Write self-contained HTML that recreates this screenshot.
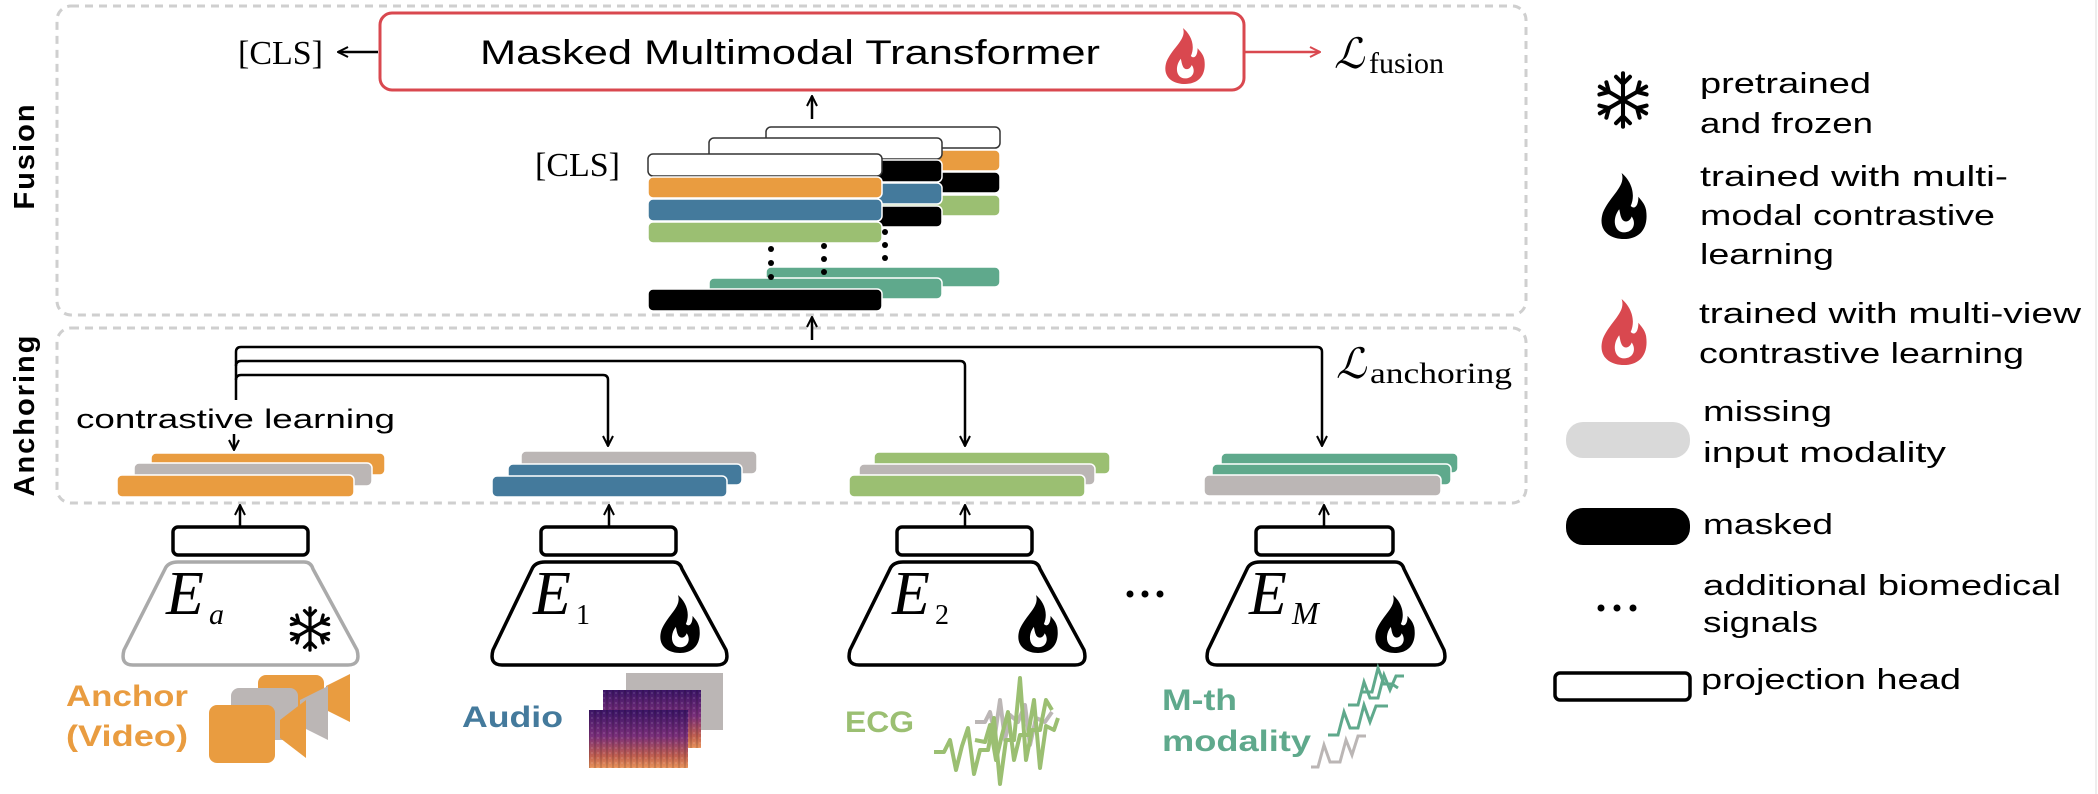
<!DOCTYPE html>
<html><head><meta charset="utf-8"><style>
html,body{margin:0;padding:0;background:#fff;}
svg{display:block;}
text{font-family:"Liberation Sans",sans-serif;}
.ser{font-family:"Liberation Serif","DejaVu Serif",serif;}
</style></head><body>
<svg width="2098" height="794" viewBox="0 0 2098 794" xmlns="http://www.w3.org/2000/svg">
<defs>
<symbol id="flame" viewBox="0 0 100 100" preserveAspectRatio="none">
<path d="M45 0 C55 20 20 35 6 60 C-6 88 22 100 50 100 C80 100 102 86 96 56 C93 46 86 42 80 36 C80 50 72 56 64 50 C76 30 62 10 45 0 Z"/>
<path fill="#fff" d="M40 55 C24 70 30 90 50 90 C70 90 76 76 66 66 C62 74 52 76 46 70 C42 65 42 60 40 55 Z"/>
</symbol>
<symbol id="snow" viewBox="-50 -50 100 100">
<g stroke="#000" stroke-width="7" fill="none" stroke-linecap="round">
<g id="arm"><line x1="0" y1="0" x2="0" y2="-46"/><polyline points="-12,-40 0,-28 12,-40"/></g>
<use href="#arm" transform="rotate(60)"/><use href="#arm" transform="rotate(120)"/>
<use href="#arm" transform="rotate(180)"/><use href="#arm" transform="rotate(240)"/><use href="#arm" transform="rotate(300)"/>
</g>
</symbol>
<marker id="ah" viewBox="0 0 12 12" refX="11" refY="6" markerWidth="12" markerHeight="12" markerUnits="userSpaceOnUse" orient="auto">
<polyline points="1,1 11,6 1,11" fill="none" stroke="#000" stroke-width="2"/>
</marker>
<marker id="ahr" viewBox="0 0 12 12" refX="11" refY="6" markerWidth="12" markerHeight="12" markerUnits="userSpaceOnUse" orient="auto">
<polyline points="1,1 11,6 1,11" fill="none" stroke="#d9484f" stroke-width="2"/>
</marker>
<linearGradient id="spec" x1="0" y1="0" x2="0" y2="1">
<stop offset="0" stop-color="#3b1466"/><stop offset="0.45" stop-color="#7a2f7a"/><stop offset="0.8" stop-color="#c2604f"/><stop offset="1" stop-color="#e8935a"/>
</linearGradient>
<pattern id="specn" width="6" height="5" patternUnits="userSpaceOnUse">
<rect width="6" height="5" fill="none"/><rect x="0" y="0" width="2" height="5" fill="#000" opacity="0.12"/><rect x="3" y="2" width="2" height="2" fill="#fff" opacity="0.1"/>
</pattern>
</defs>

<line x1="2096" y1="0" x2="2096" y2="794" stroke="#eee" stroke-width="2"/>

<rect x="57" y="6" width="1469" height="309" rx="14" fill="none" stroke="#cfcfcf" stroke-width="3" stroke-dasharray="8,6"/>
<rect x="57" y="328" width="1469" height="175" rx="14" fill="none" stroke="#cfcfcf" stroke-width="3" stroke-dasharray="8,6"/>

<text transform="translate(34,156) rotate(-90)" text-anchor="middle" font-weight="bold" font-size="29" letter-spacing="2">Fusion</text>
<text transform="translate(34,415) rotate(-90)" text-anchor="middle" font-weight="bold" font-size="29" letter-spacing="2">Anchoring</text>

<rect x="380" y="13" width="864" height="77" rx="12" fill="#fff" stroke="#d9484f" stroke-width="3"/>
<text x="790" y="64" text-anchor="middle" font-size="34" textLength="620" lengthAdjust="spacingAndGlyphs">Masked Multimodal Transformer</text>
<use href="#flame" x="1164" y="28" width="42" height="56" fill="#d9484f"/>
<line x1="378" y1="52" x2="338" y2="52" stroke="#000" stroke-width="2.5" marker-end="url(#ah)"/>
<text class="ser" x="238" y="64" font-size="34">[CLS]</text>
<line x1="1245" y1="52" x2="1320" y2="52" stroke="#d9484f" stroke-width="2.5" marker-end="url(#ahr)"/>
<text class="ser" x="1334" y="68" font-size="42" font-style="italic">ℒ</text>
<text class="ser" x="1369" y="73" font-size="30">fusion</text>

<line x1="812" y1="119" x2="812" y2="96" stroke="#000" stroke-width="2.5" marker-end="url(#ah)"/>

<g stroke="#fff" stroke-width="1.5">
<rect x="766" y="127" width="234" height="21" rx="5" fill="#fff" stroke="#333"/>
<rect x="766" y="150" width="234" height="21" rx="5" fill="#e99c40"/>
<rect x="766" y="172" width="234" height="21" rx="5" fill="#000"/>
<rect x="766" y="195" width="234" height="21" rx="5" fill="#9bbf72"/>
<rect x="709" y="138" width="233" height="21" rx="5" fill="#fff" stroke="#333"/>
<rect x="709" y="160" width="233" height="22" rx="5" fill="#000"/>
<rect x="709" y="183" width="233" height="21" rx="5" fill="#447a9c"/>
<rect x="709" y="206" width="233" height="21" rx="5" fill="#000"/>
<rect x="648" y="154" width="234" height="22" rx="5" fill="#fff" stroke="#333"/>
<rect x="648" y="177" width="234" height="21" rx="5" fill="#e99c40"/>
<rect x="648" y="199" width="234" height="22" rx="5" fill="#447a9c"/>
<rect x="648" y="222" width="234" height="21" rx="5" fill="#9bbf72"/>
<rect x="766" y="267" width="234" height="20" rx="5" fill="#5fa98c"/>
<rect x="709" y="278" width="233" height="21" rx="5" fill="#5fa98c"/>
<rect x="648" y="289" width="234" height="22" rx="5" fill="#000"/>
</g>
<g fill="#000">
<circle cx="771" cy="249" r="3"/><circle cx="771" cy="263" r="3"/><circle cx="771" cy="277" r="3"/>
<circle cx="824" cy="246" r="3"/><circle cx="824" cy="259" r="3"/><circle cx="824" cy="272" r="3"/>
<circle cx="885" cy="232" r="3"/><circle cx="885" cy="245" r="3"/><circle cx="885" cy="258" r="3"/>
</g>
<text class="ser" x="535" y="176" font-size="34">[CLS]</text>
<line x1="812" y1="340" x2="812" y2="317" stroke="#000" stroke-width="2.5" marker-end="url(#ah)"/>

<g fill="none" stroke="#000" stroke-width="2.5">
<path d="M236 400 V352 Q236 347 241 347 H1317 Q1322 347 1322 352 V446" marker-end="url(#ah)"/>
<path d="M236 366 Q236 361 241 361 H960 Q965 361 965 366 V446" />
<path d="M236 380 Q236 375 241 375 H603 Q608 375 608 380 V446" />
<line x1="965" y1="440" x2="965" y2="446" marker-end="url(#ah)"/>
<line x1="608" y1="440" x2="608" y2="446" marker-end="url(#ah)"/>
<line x1="234" y1="434" x2="234" y2="450" marker-end="url(#ah)"/>
</g>
<text x="76" y="428" font-size="27" textLength="319" lengthAdjust="spacingAndGlyphs">contrastive learning</text>
<text class="ser" x="1336" y="378" font-size="42" font-style="italic">ℒ</text>
<text class="ser" x="1370" y="383" font-size="30" textLength="142" lengthAdjust="spacingAndGlyphs">anchoring</text>

<g stroke="#fff" stroke-width="1.5">
<rect x="151" y="453" width="234" height="22" rx="5" fill="#e99c40"/>
<rect x="134" y="463" width="238" height="23" rx="5" fill="#bbb6b5"/>
<rect x="117" y="475" width="237" height="22" rx="5" fill="#e99c40"/>
<rect x="521" y="451" width="236" height="23" rx="5" fill="#bbb6b5"/>
<rect x="508" y="464" width="234" height="21" rx="5" fill="#447a9c"/>
<rect x="492" y="476" width="235" height="21" rx="5" fill="#447a9c"/>
<rect x="874" y="452" width="236" height="22" rx="5" fill="#9bbf72"/>
<rect x="859" y="464" width="236" height="21" rx="5" fill="#bbb6b5"/>
<rect x="849" y="475" width="236" height="22" rx="5" fill="#9bbf72"/>
<rect x="1221" y="453" width="237" height="20" rx="5" fill="#5fa98c"/>
<rect x="1212" y="464" width="239" height="21" rx="5" fill="#5fa98c"/>
<rect x="1204" y="475" width="237" height="21" rx="5" fill="#bbb6b5"/>
</g>

<g fill="none" stroke="#000" stroke-width="2.5">
<line x1="240" y1="527" x2="240" y2="505" marker-end="url(#ah)"/>
<line x1="609" y1="527" x2="609" y2="505" marker-end="url(#ah)"/>
<line x1="965" y1="527" x2="965" y2="505" marker-end="url(#ah)"/>
<line x1="1324" y1="527" x2="1324" y2="505" marker-end="url(#ah)"/>
</g>
<g fill="#fff" stroke="#000" stroke-width="3.5">
<rect x="173" y="527" width="135" height="28" rx="5"/>
<rect x="541" y="527" width="135" height="28" rx="5"/>
<rect x="897" y="527" width="135" height="28" rx="5"/>
<rect x="1256" y="527" width="137" height="28" rx="5"/>
</g>
<g fill="#fff" stroke-width="3.5" stroke-linejoin="round">
<path d="M178 562 H304 Q311 562 313 569 L357 650 Q361 665 348 665 H133 Q120 665 124 650 L165 569 Q168 562 178 562 Z" stroke="#aaa"/>
<path d="M545 562 H673 Q680 562 682 569 L726 650 Q730 665 717 665 H502 Q489 665 493 650 L532 569 Q535 562 545 562 Z" stroke="#000"/>
<path d="M903 562 H1031 Q1038 562 1040 569 L1084 650 Q1088 665 1075 665 H859 Q846 665 850 650 L890 569 Q893 562 903 562 Z" stroke="#000"/>
<path d="M1260 562 H1395 Q1402 562 1404 569 L1444 650 Q1448 665 1435 665 H1217 Q1204 665 1208 650 L1247 569 Q1250 562 1260 562 Z" stroke="#000"/>
</g>
<text class="ser" x="166" y="614" font-size="62" font-style="italic">E</text><text class="ser" x="209" y="624" font-size="30" font-style="italic">a</text>
<text class="ser" x="533" y="614" font-size="62" font-style="italic">E</text><text class="ser" x="576" y="624" font-size="28">1</text>
<text class="ser" x="892" y="614" font-size="62" font-style="italic">E</text><text class="ser" x="935" y="624" font-size="28">2</text>
<text class="ser" x="1249" y="614" font-size="62" font-style="italic">E</text><text class="ser" x="1292" y="624" font-size="32" font-style="italic">M</text>
<use href="#snow" x="287" y="606" width="46" height="46"/>
<use href="#flame" x="659" y="595" width="42" height="58" fill="#000"/>
<use href="#flame" x="1017" y="595" width="42" height="58" fill="#000"/>
<use href="#flame" x="1374" y="595" width="42" height="58" fill="#000"/>
<g fill="#000"><circle cx="1130" cy="594" r="3.5"/><circle cx="1145" cy="594" r="3.5"/><circle cx="1160" cy="594" r="3.5"/></g>

<g font-weight="bold" font-size="30">
<text x="66" y="706" fill="#e99c40" textLength="122" lengthAdjust="spacingAndGlyphs">Anchor</text>
<text x="66" y="746" fill="#e99c40" textLength="122" lengthAdjust="spacingAndGlyphs">(Video)</text>
<text x="462" y="727" fill="#447a9c" textLength="101" lengthAdjust="spacingAndGlyphs">Audio</text>
<text x="845" y="732" fill="#9bbf72" textLength="69" lengthAdjust="spacingAndGlyphs">ECG</text>
<text x="1162" y="710" fill="#5fa98c" textLength="75" lengthAdjust="spacingAndGlyphs">M-th</text>
<text x="1162" y="751" fill="#5fa98c" textLength="149" lengthAdjust="spacingAndGlyphs">modality</text>
</g>
<rect x="258" y="675" width="66" height="43" rx="8" fill="#e99c40"/>
<polygon points="326,686 350,674 350,722 326,710" fill="#e99c40"/>
<rect x="231" y="688" width="67" height="52" rx="8" fill="#bbb6b5"/>
<polygon points="300,700 328,686 328,740 300,726" fill="#bbb6b5"/>
<rect x="209" y="705" width="66" height="58" rx="8" fill="#e99c40"/>
<polygon points="280,720 306,700 306,758 280,738" fill="#e99c40"/>
<rect x="626" y="673" width="97" height="57" fill="#bbb6b5"/>
<rect x="603" y="690" width="98" height="58" fill="url(#spec)"/><rect x="603" y="690" width="98" height="58" fill="url(#specn)"/>
<rect x="589" y="710" width="99" height="58" fill="url(#spec)"/><rect x="589" y="710" width="99" height="58" fill="url(#specn)"/>
<g fill="none" stroke-width="4" stroke-linejoin="round">
<polyline stroke="#bbb6b5" points="975,722 985,722 990,712 995,735 1000,700 1005,740 1010,715 1018,722 1025,705 1030,745 1036,718 1045,722 1052,712"/>
<polyline stroke="#9bbf72" points="934,752 944,752 950,740 956,770 962,746 968,728 974,774 980,750 988,750 994,718 1000,784 1006,740 1014,740 1020,678 1026,760 1032,730 1040,730 1046,700 1052,710"/>
<polyline stroke="#9bbf72" points="975,740 985,742 990,725 996,760 1002,735 1008,712 1014,760 1020,735 1028,735 1034,700 1040,768 1046,726 1054,730 1058,718"/>
</g>
<g fill="none" stroke-width="3" stroke-linejoin="miter">
<polyline stroke="#bbb6b5" points="1311,767 1318,767 1324,745 1330,762 1340,762 1346,740 1352,755 1358,736 1366,736"/>
<polyline stroke="#5fa98c" points="1328,735 1338,735 1344,712 1350,728 1358,728 1364,705 1370,722 1376,706 1388,706"/>
<polyline stroke="#5fa98c" points="1348,705 1358,705 1364,682 1370,698 1378,698 1384,675 1390,690 1396,676 1404,676"/>
<polyline stroke="#5fa98c" points="1362,692 1372,692 1378,668 1384,684 1392,684 1398,688"/>
</g>

<use href="#snow" x="1594" y="71" width="58" height="58"/>
<use href="#flame" x="1600" y="173" width="48" height="66" fill="#000"/>
<use href="#flame" x="1600" y="299" width="48" height="66" fill="#d9484f"/>
<rect x="1566" y="422" width="124" height="36" rx="17" fill="#d9d9d9"/>
<rect x="1566" y="508" width="124" height="37" rx="17" fill="#000"/>
<g fill="#000"><circle cx="1601" cy="608" r="3.5"/><circle cx="1617" cy="608" r="3.5"/><circle cx="1633" cy="608" r="3.5"/></g>
<rect x="1555" y="673" width="135" height="27" rx="5" fill="#fff" stroke="#000" stroke-width="3.5"/>
<g font-size="29">
<text x="1700" y="93" textLength="171" lengthAdjust="spacingAndGlyphs">pretrained</text>
<text x="1700" y="133" textLength="173" lengthAdjust="spacingAndGlyphs">and frozen</text>
<text x="1700" y="186" textLength="308" lengthAdjust="spacingAndGlyphs">trained with multi-</text>
<text x="1700" y="225" textLength="295" lengthAdjust="spacingAndGlyphs">modal contrastive</text>
<text x="1700" y="264" textLength="134" lengthAdjust="spacingAndGlyphs">learning</text>
<text x="1699" y="323" textLength="382" lengthAdjust="spacingAndGlyphs">trained with multi-view</text>
<text x="1699" y="363" textLength="325" lengthAdjust="spacingAndGlyphs">contrastive learning</text>
<text x="1703" y="421" textLength="129" lengthAdjust="spacingAndGlyphs">missing</text>
<text x="1703" y="462" textLength="243" lengthAdjust="spacingAndGlyphs">input modality</text>
<text x="1703" y="534" textLength="130" lengthAdjust="spacingAndGlyphs">masked</text>
<text x="1703" y="595" textLength="358" lengthAdjust="spacingAndGlyphs">additional biomedical</text>
<text x="1703" y="632" textLength="115" lengthAdjust="spacingAndGlyphs">signals</text>
<text x="1701" y="689" textLength="260" lengthAdjust="spacingAndGlyphs">projection head</text>
</g>
</svg>
</body></html>
